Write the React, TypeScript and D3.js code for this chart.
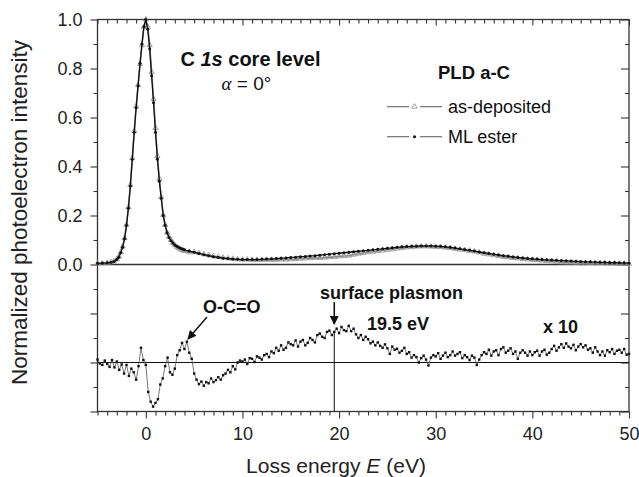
import React, { useRef, useEffect } from 'react';
import * as d3 from 'd3';

// loss energy grid of the C 1s spectra (eV)
const energyCore = [-5, -4.5, -4, -3.6, -3.3, -3.0, -2.8, -2.6, -2.4, -2.2, -2.0, -1.8, -1.6, -1.4, -1.2, -1.0, -0.8, -0.6, -0.4, -0.2,
  0, 0.2, 0.4, 0.6, 0.8, 1.0, 1.2, 1.4, 1.6, 1.8, 2.0, 2.2, 2.4, 2.6, 2.8, 3.0, 3.2, 3.4, 3.6, 3.8, 4.0];
const energyTail = d3.range(4.5, 50.01, 0.5);
const energyTop = energyCore.concat(energyTail);

// ML ester, normalized intensity
const mlEster = [
  0.005, 0.006, 0.007, 0.009, 0.012, 0.02, 0.03, 0.048, 0.07, 0.105, 0.16, 0.23, 0.32, 0.43, 0.54, 0.64, 0.73, 0.82, 0.9, 0.97,
  1.0, 0.96, 0.88, 0.77, 0.66, 0.54, 0.43, 0.34, 0.27, 0.2, 0.16, 0.13, 0.11, 0.097, 0.088, 0.08, 0.075, 0.07, 0.066, 0.063, 0.06,
  0.055, 0.05, 0.045, 0.04, 0.036, 0.032, 0.029, 0.026, 0.024, 0.022, 0.021, 0.02, 0.02, 0.02, 0.02, 0.021, 0.022, 0.023, 0.024, 0.026,
  0.027, 0.029, 0.03, 0.032, 0.033, 0.035, 0.036, 0.038, 0.04, 0.042, 0.044, 0.046, 0.048, 0.05, 0.052, 0.054, 0.056, 0.058, 0.06, 0.062,
  0.064, 0.066, 0.068, 0.07, 0.072, 0.073, 0.074, 0.075, 0.076, 0.076, 0.076, 0.075, 0.074, 0.072, 0.07, 0.067, 0.064, 0.061, 0.058, 0.055,
  0.051, 0.048, 0.045, 0.042, 0.039, 0.036, 0.034, 0.031, 0.029, 0.027, 0.025, 0.023, 0.022, 0.02, 0.019, 0.018, 0.017, 0.016, 0.015, 0.014,
  0.013, 0.012, 0.011, 0.011, 0.01, 0.009, 0.009, 0.008, 0.008, 0.007, 0.007, 0.006,
];

// as-deposited, normalized intensity
const asDeposited = [
  0.004, 0.005, 0.007, 0.009, 0.013, 0.021, 0.032, 0.05, 0.073, 0.108, 0.162, 0.234, 0.325, 0.435, 0.545, 0.646, 0.732, 0.818, 0.895, 0.97,
  1.0, 0.97, 0.895, 0.786, 0.676, 0.557, 0.443, 0.35, 0.275, 0.202, 0.161, 0.13, 0.113, 0.1, 0.088, 0.079, 0.072, 0.066, 0.061, 0.058, 0.055,
  0.05, 0.05, 0.047, 0.042, 0.038, 0.034, 0.031, 0.028, 0.025, 0.023, 0.021, 0.02, 0.02, 0.019, 0.019, 0.019, 0.019, 0.019, 0.019, 0.02,
  0.02, 0.021, 0.022, 0.024, 0.025, 0.026, 0.027, 0.027, 0.028, 0.03, 0.031, 0.033, 0.035, 0.036, 0.04, 0.044, 0.047, 0.05, 0.052, 0.055,
  0.057, 0.06, 0.062, 0.065, 0.067, 0.07, 0.071, 0.073, 0.074, 0.074, 0.073, 0.072, 0.071, 0.069, 0.067, 0.064, 0.061, 0.059, 0.056, 0.053,
  0.049, 0.044, 0.041, 0.038, 0.035, 0.031, 0.029, 0.027, 0.025, 0.023, 0.021, 0.019, 0.018, 0.016, 0.014, 0.013, 0.011, 0.009, 0.008, 0.008,
  0.007, 0.005, 0.005, 0.006, 0.005, 0.0055, 0.005, 0.004, 0.004, 0.0025, 0.003, 0.003,
];

// difference spectrum (ML ester - as-deposited) x 10, every 0.25 eV from -5 to 50 eV
const energyDiff = d3.range(-5, 50.001, 0.25);
const diffX10 = [
  0.012, -0.004, -0.01, 0.008, -0.006, -0.018, 0.01, -0.02, 0.004, -0.03, -0.008, -0.045, -0.01, -0.055, -0.025, -0.04,
  -0.07, -0.015, 0.06, 0.01, -0.01, -0.12, -0.16, -0.18, -0.165, -0.15, -0.09, -0.065, -0.015, 0.02, -0.04, -0.05,
  -0.025, 0.03, 0.05, 0.08, 0.055, 0.085, 0.04, 0.015, -0.045, -0.07, -0.088, -0.078, -0.095, -0.08, -0.085, -0.065,
  -0.08, -0.072, -0.06, -0.07, -0.052, -0.045, -0.03, -0.04, -0.015, -0.028, 0.0, 0.008, 0.004, 0.012, -0.006, 0.018,
  0.015, 0.002, 0.025, 0.02, 0.012, 0.03, 0.035, 0.022, 0.045, 0.038, 0.06, 0.048, 0.07, 0.052, 0.06, 0.082,
  0.075, 0.07, 0.09, 0.065, 0.085, 0.092, 0.07, 0.08, 0.1, 0.092, 0.082, 0.112, 0.118, 0.105, 0.1, 0.125,
  0.13, 0.112, 0.125, 0.138, 0.12, 0.145, 0.132, 0.128, 0.15, 0.128, 0.138, 0.115, 0.1, 0.112, 0.092, 0.105,
  0.095, 0.078, 0.085, 0.07, 0.082, 0.068, 0.06, 0.074, 0.058, 0.035, 0.065, 0.052, 0.056, 0.04, 0.048, 0.06,
  0.035, 0.042, 0.02, 0.03, 0.022, 0.0, 0.018, 0.028, 0.012, -0.012, 0.02, 0.03, 0.025, 0.038, 0.015, 0.028,
  0.04, 0.022, 0.03, 0.045, 0.028, 0.035, 0.042, 0.018, 0.03, 0.022, 0.01, 0.028, 0.02, -0.01, 0.012, 0.03,
  0.042, 0.035, 0.052, 0.028, 0.045, 0.05, 0.03, 0.055, 0.062, 0.04, 0.048, 0.058, 0.035, 0.045, 0.015, 0.04,
  0.05, 0.04, 0.028, 0.045, 0.03, 0.042, 0.048, 0.028, 0.045, 0.052, 0.032, 0.04, 0.055, 0.068, 0.048, 0.062,
  0.075, 0.06, 0.078, 0.065, 0.058, 0.072, 0.05, 0.065, 0.075, 0.062, 0.07, 0.052, 0.058, 0.04, 0.062, 0.045,
  0.03, 0.045, 0.028, 0.05, 0.042, 0.055, 0.035, 0.048, 0.052, 0.04, 0.055, 0.032, 0.035,
];

const xMajor = [0, 10, 20, 30, 40, 50];
const yLabeled = [0, 0.2, 0.4, 0.6, 0.8, 1.0];
const plasmonEnergy = 19.5;

const FONT = '"Liberation Sans", Arial, Helvetica, sans-serif';

const App = () => {
  const ref = useRef(null);

  useEffect(() => {
    const W = 639, H = 477;
    const svg = d3.select(ref.current).attr('width', W).attr('height', H).html('');

    const x = d3.scaleLinear().domain([-5, 50]).range([97.5, 629]);
    // one vertical scale: upper panel 0..1, lower panel continues below 0
    const y = d3.scaleLinear().domain([-0.6, 1.0]).range([411.5, 19.5]);
    // lower panel (difference x10), zero at y(-0.4)
    const yb = d3.scaleLinear().domain([-0.2, 0.2]).range([y(-0.6), y(-0.2)]);

    const x0 = x(-5), x1 = x(50), yTop = y(1), yBot = y(-0.6);

    // axes
    const styleAxis = (g) => {
      g.select('.domain').remove();
      g.selectAll('line').attr('stroke', '#333').attr('stroke-width', 1.1);
      g.selectAll('text').attr('font-family', FONT).attr('font-size', 18).attr('fill', '#222');
    };

    const xMinor = d3.range(-5, 50.01, 1).filter(v => v % 10 !== 0);
    svg.append('g').attr('transform', `translate(0,${yBot})`)
      .call(d3.axisBottom(x).tickValues(xMajor).tickSize(7).tickPadding(9).tickFormat(d3.format('d')))
      .call(styleAxis);
    svg.append('g').attr('transform', `translate(0,${yBot})`)
      .call(d3.axisBottom(x).tickValues(xMinor).tickSize(4).tickFormat(() => ''))
      .call(styleAxis);
    svg.append('g').attr('transform', `translate(0,${yTop})`)
      .call(d3.axisTop(x).tickValues(xMajor).tickSize(-6).tickFormat(() => ''))
      .call(styleAxis);
    svg.append('g').attr('transform', `translate(0,${yTop})`)
      .call(d3.axisTop(x).tickValues(xMinor).tickSize(-4).tickFormat(() => ''))
      .call(styleAxis);

    const yMajorAll = [-0.6, -0.4, -0.2, 0, 0.2, 0.4, 0.6, 0.8, 1.0];
    const yMinor = [-0.5, -0.3, -0.1, 0.1, 0.3, 0.5, 0.7, 0.9];
    svg.append('g').attr('transform', `translate(${x0},0)`)
      .call(d3.axisLeft(y).tickValues(yLabeled).tickSize(7).tickPadding(8).tickFormat(d3.format('.1f')))
      .call(styleAxis);
    svg.append('g').attr('transform', `translate(${x0},0)`)
      .call(d3.axisLeft(y).tickValues([-0.6, -0.4, -0.2]).tickSize(7).tickFormat(() => ''))
      .call(styleAxis);
    svg.append('g').attr('transform', `translate(${x0},0)`)
      .call(d3.axisLeft(y).tickValues(yMinor).tickSize(4).tickFormat(() => ''))
      .call(styleAxis);
    svg.append('g').attr('transform', `translate(${x1},0)`)
      .call(d3.axisRight(y).tickValues(yMajorAll).tickSize(-8).tickFormat(() => ''))
      .call(styleAxis);
    svg.append('g').attr('transform', `translate(${x1},0)`)
      .call(d3.axisRight(y).tickValues(yMinor).tickSize(-4).tickFormat(() => ''))
      .call(styleAxis);

    // frame + panel separator + lower zero line
    svg.append('rect').attr('x', x0).attr('y', yTop).attr('width', x1 - x0).attr('height', yBot - yTop)
      .attr('fill', 'none').attr('stroke', '#333').attr('stroke-width', 1.3);
    svg.append('line').attr('x1', x0).attr('x2', x1).attr('y1', y(0)).attr('y2', y(0))
      .attr('stroke', '#333').attr('stroke-width', 1.3);
    svg.append('line').attr('x1', x0).attr('x2', x1).attr('y1', yb(0)).attr('y2', yb(0))
      .attr('stroke', '#111').attr('stroke-width', 1);

    // upper panel spectra
    const line = d3.line().x(d => x(d[0])).y(d => y(d[1]));
    const adPts = energyTop.map((e, i) => [e, asDeposited[i]]);
    const mlPts = energyTop.map((e, i) => [e, mlEster[i]]);

    svg.append('path').datum(adPts).attr('d', line).attr('fill', 'none').attr('stroke', '#8a8a8a').attr('stroke-width', 1.6);
    const tri = d3.symbol(d3.symbolTriangle, 12);
    svg.append('g').selectAll('path').data(adPts).enter().append('path')
      .attr('transform', d => `translate(${x(d[0])},${y(d[1])})`)
      .attr('d', tri).attr('fill', 'none').attr('stroke', '#8f8f8f').attr('stroke-width', 0.8);

    svg.append('path').datum(mlPts).attr('d', line).attr('fill', 'none').attr('stroke', '#111').attr('stroke-width', 1.3);
    svg.append('g').selectAll('circle').data(mlPts).enter().append('circle')
      .attr('cx', d => x(d[0])).attr('cy', d => y(d[1])).attr('r', 1.5).attr('fill', '#111');

    // lower panel difference x10
    const diffPts = energyDiff.map((e, i) => [e, diffX10[i]]);
    const lineB = d3.line().x(d => x(d[0])).y(d => yb(d[1]));
    svg.append('path').datum(diffPts).attr('d', lineB).attr('fill', 'none').attr('stroke', '#555').attr('stroke-width', 0.8);
    svg.append('g').selectAll('rect').data(diffPts).enter().append('rect')
      .attr('x', d => x(d[0]) - 1.2).attr('y', d => yb(d[1]) - 1.2).attr('width', 2.4).attr('height', 2.4).attr('fill', '#111');

    // plasmon marker line
    const pIdx = energyDiff.findIndex(e => Math.abs(e - plasmonEnergy) < 0.01);
    svg.append('line').attr('x1', x(plasmonEnergy)).attr('x2', x(plasmonEnergy))
      .attr('y1', yb(diffX10[pIdx])).attr('y2', yBot).attr('stroke', '#111').attr('stroke-width', 1);

    // arrowhead
    const defs = svg.append('defs');
    defs.append('marker').attr('id', 'ah').attr('viewBox', '0 0 10 10').attr('refX', 9).attr('refY', 5)
      .attr('markerWidth', 9).attr('markerHeight', 9).attr('markerUnits', 'userSpaceOnUse').attr('orient', 'auto')
      .append('path').attr('d', 'M0,0 L10,5 L0,10 Z').attr('fill', '#111');

    svg.append('line').attr('x1', x(plasmonEnergy)).attr('x2', x(plasmonEnergy)).attr('y1', 302).attr('y2', 324)
      .attr('stroke', '#111').attr('stroke-width', 1.6).attr('marker-end', 'url(#ah)');
    svg.append('line').attr('x1', 207).attr('y1', 317).attr('x2', 188).attr('y2', 339)
      .attr('stroke', '#111').attr('stroke-width', 1.4).attr('marker-end', 'url(#ah)');

    // text
    const txt = (tx, ty, s, size, weight, anchor = 'start') =>
      svg.append('text').attr('x', tx).attr('y', ty).attr('font-family', FONT).attr('font-size', size)
        .attr('font-weight', weight).attr('text-anchor', anchor).attr('fill', '#111').text(s);

    const c1s = svg.append('text').attr('x', 250.5).attr('y', 66).attr('font-family', FONT).attr('font-size', 20)
      .attr('font-weight', 'bold').attr('text-anchor', 'middle').attr('fill', '#111');
    c1s.append('tspan').text('C ');
    c1s.append('tspan').attr('font-style', 'italic').text('1s');
    c1s.append('tspan').text(' core level');

    const alpha = svg.append('text').attr('x', 246.5).attr('y', 90).attr('font-family', FONT).attr('font-size', 19)
      .attr('text-anchor', 'middle').attr('fill', '#111');
    alpha.append('tspan').attr('font-family', '"Liberation Serif", "DejaVu Serif", serif').attr('font-style', 'italic').text('α');
    alpha.append('tspan').text(' = 0°');

    txt(438, 78.5, 'PLD a-C', 18.5, 'bold');

    // legend
    const legend = [
      { name: 'as-deposited', yy: 106.7, kind: 'tri' },
      { name: 'ML ester', yy: 136.7, kind: 'dot' },
    ];
    legend.forEach(l => {
      svg.append('line').attr('x1', 387).attr('x2', 409).attr('y1', l.yy).attr('y2', l.yy).attr('stroke', '#666').attr('stroke-width', 1.1);
      svg.append('line').attr('x1', 420).attr('x2', 442).attr('y1', l.yy).attr('y2', l.yy).attr('stroke', '#666').attr('stroke-width', 1.1);
      if (l.kind === 'tri') {
        svg.append('path').attr('transform', `translate(414.5,${l.yy})`).attr('d', tri)
          .attr('fill', 'none').attr('stroke', '#8f8f8f').attr('stroke-width', 0.8);
      } else {
        svg.append('circle').attr('cx', 414.5).attr('cy', l.yy).attr('r', 1.5).attr('fill', '#111');
      }
      txt(448, l.yy + 6.4, l.name, 18, 'normal');
    });

    txt(203, 313, 'O-C=O', 18, 'bold');
    txt(320, 299, 'surface plasmon', 18, 'bold');
    txt(367, 330, '19.5 eV', 18, 'bold');
    txt(543, 332.5, 'x 10', 18, 'bold');

    // axis titles
    const xt = svg.append('text').attr('x', 336).attr('y', 473).attr('font-family', FONT).attr('font-size', 21)
      .attr('text-anchor', 'middle').attr('fill', '#222');
    xt.append('tspan').text('Loss energy ');
    xt.append('tspan').attr('font-style', 'italic').text('E');
    xt.append('tspan').text(' (eV)');

    svg.append('text').attr('transform', 'translate(27,212.5) rotate(-90)').attr('font-family', FONT)
      .attr('font-size', 22.5).attr('text-anchor', 'middle').attr('fill', '#222').text('Normalized photoelectron intensity');
  }, []);

  return (
    <div style={{ position: 'absolute', left: 0, top: 0, width: 639, height: 477, background: '#fff' }}>
      <svg ref={ref} style={{ display: 'block' }}></svg>
    </div>
  );
};

export default App;
